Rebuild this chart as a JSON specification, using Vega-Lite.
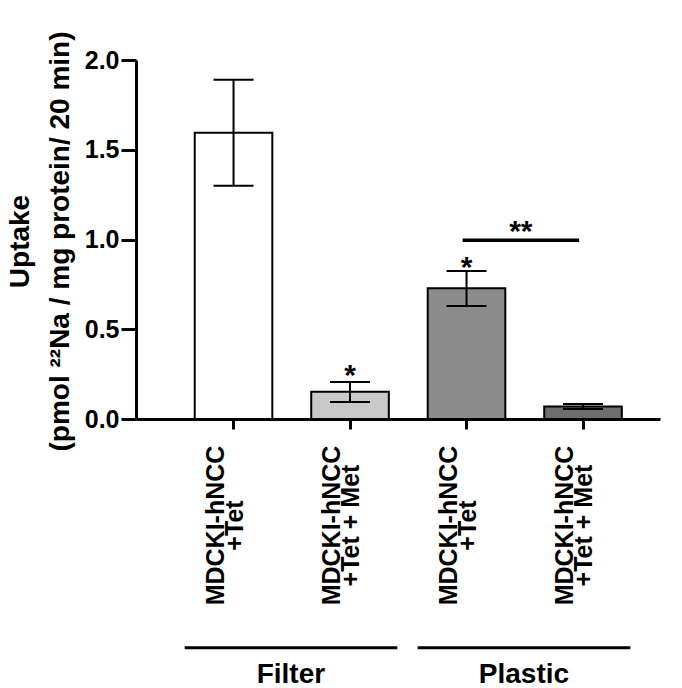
{
  "$schema": "https://vega.github.io/schema/vega-lite/v6.json",
  "width": 524,
  "height": 359,
  "autosize": {"type": "none"},
  "padding": {"left": 136, "top": 60, "right": 22, "bottom": 269},
  "background": "white",
  "config": {
    "view": {"stroke": null},
    "font": "Liberation Sans",
    "lineBreak": "\n",
    "style": {"guide-title": {"lineBreak": "\n"}},
    "axis": {
      "domainColor": "black", "tickColor": "black", "labelColor": "black", "titleColor": "black",
      "labelFont": "Liberation Sans", "titleFont": "Liberation Sans",
      "labelFontWeight": "bold", "titleFontWeight": "bold",
      "grid": false, "domainWidth": 3, "tickWidth": 3
    },
    "text": {"font": "Liberation Sans", "fontWeight": "bold", "color": "black"}
  },
  "datasets": {
    "bars": [
      {"cond": "MDCKI-hNCC|+Tet|Filter", "group": "Filter", "mean": 1.595, "lo": 1.30, "hi": 1.89},
      {"cond": "MDCKI-hNCC|+Tet + Met|Filter", "group": "Filter", "mean": 0.152, "lo": 0.095, "hi": 0.206},
      {"cond": "MDCKI-hNCC|+Tet|Plastic", "group": "Plastic", "mean": 0.728, "lo": 0.63, "hi": 0.824},
      {"cond": "MDCKI-hNCC|+Tet + Met|Plastic", "group": "Plastic", "mean": 0.07, "lo": 0.056, "hi": 0.083}
    ],
    "stars": [
      {"cond": "MDCKI-hNCC|+Tet + Met|Filter", "label": "*", "y": 0.189},
      {"cond": "MDCKI-hNCC|+Tet|Plastic", "label": "*", "y": 0.791}
    ],
    "bracket": [
      {"from": "MDCKI-hNCC|+Tet|Plastic", "to": "MDCKI-hNCC|+Tet + Met|Plastic", "y": 0.996, "label": "**", "ylabel": 0.992}
    ],
    "groups": [
      {"group": "Filter", "first": "MDCKI-hNCC|+Tet|Filter", "last": "MDCKI-hNCC|+Tet + Met|Filter"},
      {"group": "Plastic", "first": "MDCKI-hNCC|+Tet|Plastic", "last": "MDCKI-hNCC|+Tet + Met|Plastic"}
    ]
  },
  "layer": [
    {
      "data": {"name": "bars"},
      "mark": {"type": "bar", "stroke": "black", "strokeWidth": 2},
      "encoding": {
        "x": {
          "field": "cond", "type": "nominal", "sort": null,
          "scale": {
            "domain": ["MDCKI-hNCC|+Tet|Filter", "MDCKI-hNCC|+Tet + Met|Filter", "MDCKI-hNCC|+Tet|Plastic", "MDCKI-hNCC|+Tet + Met|Plastic"],
            "paddingInner": 0.334, "paddingOuter": 0.416, "align": 0.606
          },
          "axis": {
            "title": null,
            "labelExpr": "slice(split(datum.label, '|'), 0, 2)",
            "labelAngle": -90, "labelAlign": "center", "labelBaseline": "alphabetic",
            "labelFontSize": 25, "labelLineHeight": 19, "labelPadding": 96,
            "labelOffset": -10, "tickSize": 10
          }
        },
        "y": {
          "field": "mean", "type": "quantitative",
          "scale": {"domain": [0, 2], "nice": false},
          "axis": {
            "values": [0, 0.5, 1, 1.5, 2], "format": ".1f",
            "labelFontSize": 25, "labelPadding": 2, "tickSize": 15,
            "title": "Uptake\n(pmol ²²Na / mg protein/ 20 min)",
            "titleFontSize": 28, "titleAngle": -90, "titleX": -108, "titleY": 181,
            "titleAlign": "center", "titleBaseline": "alphabetic", "titleLineHeight": 40
          }
        },
        "fill": {
          "field": "cond", "type": "nominal",
          "scale": {
            "domain": ["MDCKI-hNCC|+Tet|Filter", "MDCKI-hNCC|+Tet + Met|Filter", "MDCKI-hNCC|+Tet|Plastic", "MDCKI-hNCC|+Tet + Met|Plastic"],
            "range": ["#ffffff", "#c9c9c9", "#8c8c8c", "#6e6e6e"]
          },
          "legend": null
        }
      }
    },
    {
      "data": {"name": "bars"},
      "mark": {"type": "rule", "color": "black", "strokeWidth": 2},
      "encoding": {
        "x": {"field": "cond", "type": "nominal", "sort": null},
        "y": {"field": "lo", "type": "quantitative"},
        "y2": {"field": "hi"}
      }
    },
    {
      "data": {"name": "bars"},
      "mark": {"type": "tick", "orient": "horizontal", "color": "black", "size": 40, "thickness": 2, "opacity": 1},
      "encoding": {
        "x": {"field": "cond", "type": "nominal", "sort": null},
        "y": {"field": "lo", "type": "quantitative"}
      }
    },
    {
      "data": {"name": "bars"},
      "mark": {"type": "tick", "orient": "horizontal", "color": "black", "size": 40, "thickness": 2, "opacity": 1},
      "encoding": {
        "x": {"field": "cond", "type": "nominal", "sort": null},
        "y": {"field": "hi", "type": "quantitative"}
      }
    },
    {
      "data": {"name": "stars"},
      "mark": {"type": "text", "fontSize": 30, "baseline": "alphabetic", "align": "center"},
      "encoding": {
        "x": {"field": "cond", "type": "nominal", "sort": null},
        "y": {"field": "y", "type": "quantitative"},
        "text": {"field": "label"}
      }
    },
    {
      "data": {"name": "bracket"},
      "mark": {"type": "rule", "color": "black", "strokeWidth": 3.5},
      "encoding": {
        "x": {"field": "from", "type": "nominal", "bandPosition": 0.45},
        "x2": {"field": "to", "bandPosition": 0.45},
        "y": {"field": "y", "type": "quantitative"}
      }
    },
    {
      "data": {"name": "bracket"},
      "mark": {"type": "text", "fontSize": 30, "baseline": "alphabetic", "align": "center"},
      "encoding": {
        "x": {"field": "from", "type": "nominal", "bandPosition": 1.2},
        "y": {"field": "ylabel", "type": "quantitative"},
        "text": {"field": "label"}
      }
    },
    {
      "data": {"name": "groups"},
      "mark": {"type": "rule", "color": "black", "strokeWidth": 3},
      "encoding": {
        "x": {"field": "first", "type": "nominal", "bandPosition": -0.13},
        "x2": {"field": "last", "bandPosition": 1.11},
        "y": {"datum": -1.274, "type": "quantitative"}
      }
    },
    {
      "data": {"name": "groups"},
      "mark": {"type": "text", "fontSize": 28, "baseline": "alphabetic", "align": "center"},
      "encoding": {
        "x": {"field": "first", "type": "nominal", "bandPosition": 1.24},
        "y": {"datum": -1.471, "type": "quantitative"},
        "text": {"field": "group"}
      }
    }
  ]
}
